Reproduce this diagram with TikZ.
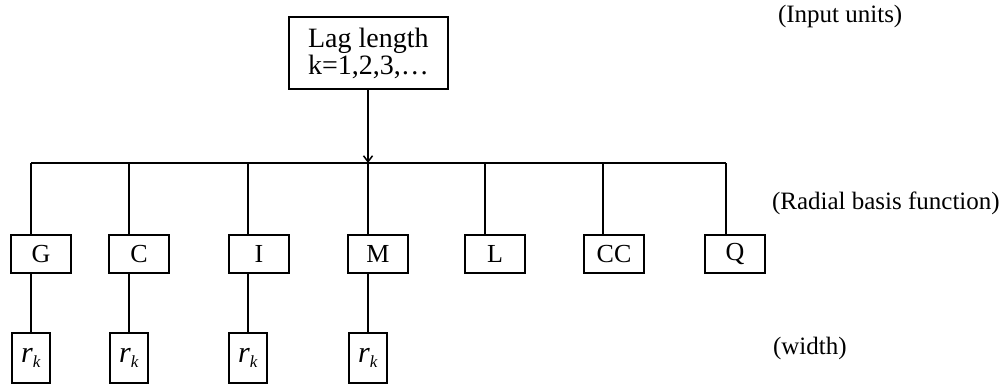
\documentclass[tikz,border=0pt]{standalone}
\usepackage{fontspec}
\setmainfont{Liberation Serif}
\usetikzlibrary{arrows.meta}
\begin{document}
\begin{tikzpicture}[x=1pt,y=-1pt,
  line width=2pt,
  every node/.style={font=\fontsize{26}{29}\selectfont},
  unit/.style={draw,line width=2pt,minimum width=60pt,minimum height=38pt,inner sep=0pt},
  wbox/.style={draw,line width=2pt,minimum width=38pt,minimum height=50pt,inner sep=0pt},
  lab/.style={anchor=west,inner sep=0pt,font=\fontsize{25}{28}\selectfont}]
\useasboundingbox (0,0) rectangle (1007,383);
\node[draw,line width=2pt,minimum width=159pt,minimum height=72pt,align=left,inner sep=0pt,font=\fontsize{28}{30}\selectfont] (lag) at (368.5,53) {Lag length\\[-3pt]k=1,2,3,\dots};
\coordinate (bl) at (31,163);
\coordinate (br) at (726,163);
\coordinate (bm) at (368,163);
\node[unit] (G) at (41,254) {G};
\node[unit] (C) at (139,254) {C};
\node[unit] (I) at (259,254) {I};
\node[unit] (M) at (378,254) {M};
\node[unit] (L) at (495,254) {L};
\node[unit] (CC) at (614,254) {CC};
\node[unit] (Q) at (735,254) {Q};
\foreach \n/\x in {G/31,C/129,I/248,M/368} {
  \node[wbox] (r\n) at (\x,358) {\fontsize{30}{30}\selectfont\textit{r}\raisebox{-0.35ex}{\fontsize{17}{17}\selectfont\textit{k}}};
}
\draw[-{Straight Barb[length=6pt,width=9pt]},line width=1.5pt] (lag.south -| bm) -- (bm);
\draw (bl) -- (br);
\foreach \n/\x in {G/31,C/129,I/248,M/368,L/485,CC/603,Q/726} {
  \draw (\x,163) -- (\n.north -| {(\x,0)});
}
\foreach \n/\x in {G/31,C/129,I/248,M/368} {
  \draw (\n.south -| r\n) -- (r\n.north);
}
\node[lab] (t1) at (777,16) {(Input units)};
\node[lab] (t2) at (771,203) {(Radial basis function)};
\node[lab] (t3) at (772,348) {(width)};
\end{tikzpicture}
\end{document}
